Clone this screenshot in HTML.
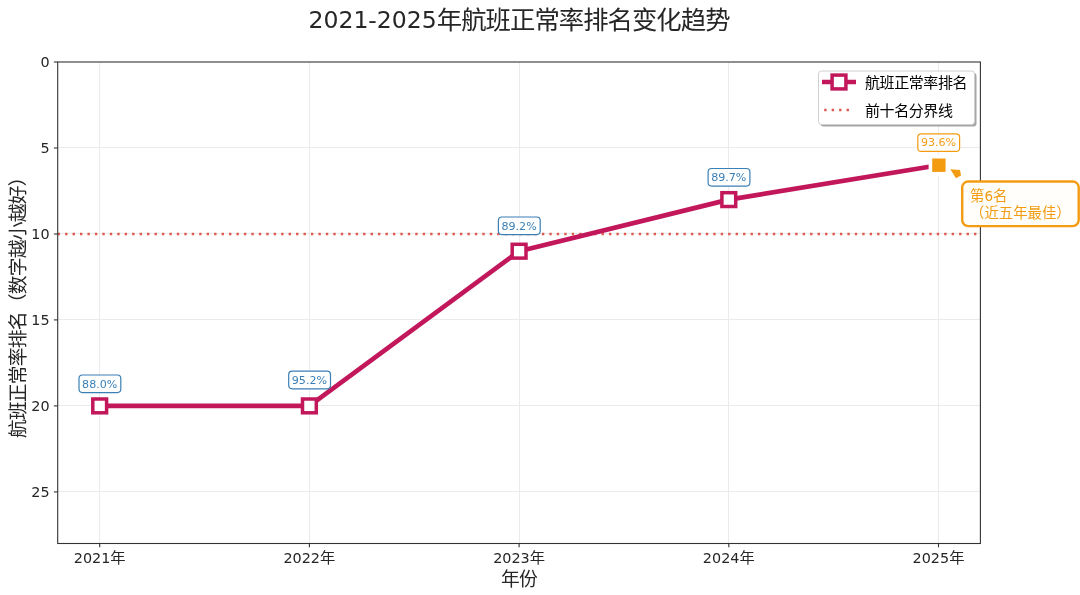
<!DOCTYPE html>
<html lang="zh-CN">
<head>
<meta charset="utf-8">
<title>2021-2025年航班正常率排名变化趋势</title>
<style>
html,body{margin:0;padding:0;background:#fff;}
body{width:1080px;height:595px;overflow:hidden;}
svg{display:block;}
svg text{font-family:"DejaVu Sans","Liberation Sans","Noto Sans CJK SC",sans-serif;fill:#262626;}
svg .l{font-family:"DejaVu Sans","Liberation Sans",sans-serif;}
svg .c{font-family:"Noto Sans CJK SC","Liberation Sans",sans-serif;}
</style>
</head>
<body>
<svg width="1080" height="595" viewBox="0 0 1080 595">
<rect x="0" y="0" width="1080" height="595" fill="#ffffff"/>

<g stroke="#ebebeb" stroke-width="1" fill="none">
<line x1="99.5" y1="62.0" x2="99.5" y2="543.5"/>
<line x1="309.5" y1="62.0" x2="309.5" y2="543.5"/>
<line x1="519.5" y1="62.0" x2="519.5" y2="543.5"/>
<line x1="728.5" y1="62.0" x2="728.5" y2="543.5"/>
<line x1="938.5" y1="62.0" x2="938.5" y2="543.5"/>
<line x1="57.7" y1="147.5" x2="980.4" y2="147.5"/>
<line x1="57.7" y1="233.5" x2="980.4" y2="233.5"/>
<line x1="57.7" y1="319.5" x2="980.4" y2="319.5"/>
<line x1="57.7" y1="405.5" x2="980.4" y2="405.5"/>
<line x1="57.7" y1="491.5" x2="980.4" y2="491.5"/>
</g>
<line x1="57.7" y1="234.0" x2="980.4" y2="234.0" stroke="#dd5a50" stroke-width="2.4" stroke-dasharray="2.4 5.05" stroke-dashoffset="-7.4"/>
<polyline points="99.7,405.9 309.4,405.9 519.1,251.2 728.8,199.6 938.5,165.2" fill="none" stroke="#c2185b" stroke-width="4.7" stroke-linejoin="round" stroke-linecap="butt"/>
<rect x="92.8" y="399.0" width="13.8" height="13.8" fill="#ffffff" stroke="#c2185b" stroke-width="3.5"/>
<rect x="302.5" y="399.0" width="13.8" height="13.8" fill="#ffffff" stroke="#c2185b" stroke-width="3.5"/>
<rect x="512.2" y="244.3" width="13.8" height="13.8" fill="#ffffff" stroke="#c2185b" stroke-width="3.5"/>
<rect x="721.9" y="192.7" width="13.8" height="13.8" fill="#ffffff" stroke="#c2185b" stroke-width="3.5"/>
<rect x="930.4" y="156.7" width="17" height="17" fill="#f39c12" stroke="#ffffff" stroke-width="3.6"/>
<rect x="57.7" y="62.0" width="922.7" height="481.5" fill="none" stroke="#333333" stroke-width="1.1"/>
<g stroke="#333333" stroke-width="1.1">
<line x1="99.7" y1="543.5" x2="99.7" y2="547.3"/>
<line x1="309.4" y1="543.5" x2="309.4" y2="547.3"/>
<line x1="519.1" y1="543.5" x2="519.1" y2="547.3"/>
<line x1="728.8" y1="543.5" x2="728.8" y2="547.3"/>
<line x1="938.5" y1="543.5" x2="938.5" y2="547.3"/>
<line x1="53.9" y1="62.0" x2="57.7" y2="62.0"/>
<line x1="53.9" y1="148.0" x2="57.7" y2="148.0"/>
<line x1="53.9" y1="234.0" x2="57.7" y2="234.0"/>
<line x1="53.9" y1="319.9" x2="57.7" y2="319.9"/>
<line x1="53.9" y1="405.9" x2="57.7" y2="405.9"/>
<line x1="53.9" y1="491.9" x2="57.7" y2="491.9"/>
</g>
<text x="99.7" y="563" text-anchor="middle"><tspan class="l" font-size="14.38">2021</tspan><tspan class="c" font-size="15.30">年</tspan></text>
<text x="309.4" y="563" text-anchor="middle"><tspan class="l" font-size="14.38">2022</tspan><tspan class="c" font-size="15.30">年</tspan></text>
<text x="519.1" y="563" text-anchor="middle"><tspan class="l" font-size="14.38">2023</tspan><tspan class="c" font-size="15.30">年</tspan></text>
<text x="728.8" y="563" text-anchor="middle"><tspan class="l" font-size="14.38">2024</tspan><tspan class="c" font-size="15.30">年</tspan></text>
<text x="938.5" y="563" text-anchor="middle"><tspan class="l" font-size="14.38">2025</tspan><tspan class="c" font-size="15.30">年</tspan></text>
<text x="49.6" y="67.2" text-anchor="end"><tspan class="l" font-size="14.38">0</tspan></text>
<text x="49.6" y="153.2" text-anchor="end"><tspan class="l" font-size="14.38">5</tspan></text>
<text x="49.6" y="239.2" text-anchor="end"><tspan class="l" font-size="14.38">10</tspan></text>
<text x="49.6" y="325.1" text-anchor="end"><tspan class="l" font-size="14.38">15</tspan></text>
<text x="49.6" y="411.1" text-anchor="end"><tspan class="l" font-size="14.38">20</tspan></text>
<text x="49.6" y="497.1" text-anchor="end"><tspan class="l" font-size="14.38">25</tspan></text>
<text x="519" y="585.6" text-anchor="middle"><tspan class="c" font-size="18.81" letter-spacing="-0.81">年份</tspan></text>
<text transform="translate(24.6,303.2) rotate(-90)" text-anchor="middle"><tspan class="c" font-size="18.81" letter-spacing="-0.81">航班正常率排名（数字越小越好）</tspan></text>
<text x="519" y="27.6" text-anchor="middle"><tspan class="l" font-size="23.55">2021-2025</tspan><tspan class="c" font-size="25.38" dy="1.3" letter-spacing="-0.98">年航班正常率排名变化趋势</tspan></text>
<rect x="79.0" y="375.0" width="41.8" height="17.6" rx="3.5" ry="3.5" fill="#ffffff" stroke="#3a7fb5" stroke-width="1.2"/>
<text x="99.7" y="387.5" text-anchor="middle" style="fill:#3a7fb5"><tspan class="l" font-size="11.09">88.0%</tspan></text>
<rect x="288.7" y="371.2" width="41.8" height="17.6" rx="3.5" ry="3.5" fill="#ffffff" stroke="#3a7fb5" stroke-width="1.2"/>
<text x="309.4" y="383.7" text-anchor="middle" style="fill:#3a7fb5"><tspan class="l" font-size="11.09">95.2%</tspan></text>
<rect x="498.4" y="217.0" width="41.8" height="17.6" rx="3.5" ry="3.5" fill="#ffffff" stroke="#3a7fb5" stroke-width="1.2"/>
<text x="519.1" y="229.5" text-anchor="middle" style="fill:#3a7fb5"><tspan class="l" font-size="11.09">89.2%</tspan></text>
<rect x="708.1" y="168.5" width="41.8" height="17.6" rx="3.5" ry="3.5" fill="#ffffff" stroke="#3a7fb5" stroke-width="1.2"/>
<text x="728.8" y="181.0" text-anchor="middle" style="fill:#3a7fb5"><tspan class="l" font-size="11.09">89.7%</tspan></text>
<rect x="917.8" y="133.8" width="41.8" height="17.6" rx="3.5" ry="3.5" fill="#ffffff" stroke="#f39c12" stroke-width="1.2"/>
<text x="938.5" y="146.3" text-anchor="middle" style="fill:#f39c12"><tspan class="l" font-size="11.09">93.6%</tspan></text>
<rect x="962.2" y="181.5" width="116.5" height="44.6" rx="6" ry="6" fill="#fffefa" stroke="#f39c12" stroke-width="2.4"/>
<text x="970" y="200.6" style="fill:#f39c12"><tspan class="c" font-size="14.40">第</tspan><tspan class="l" font-size="13.54">6</tspan><tspan class="c" font-size="14.40">名</tspan></text>
<text x="970" y="217.8" style="fill:#f39c12"><tspan class="c" font-size="14.40">（近五年最佳）</tspan></text>
<polygon points="950.3,169.3 960,170 961,175.5 956,178.2" fill="#f39c12"/>
<rect x="820.5" y="73" width="156" height="53.5" rx="3" ry="3" fill="#808080" fill-opacity="0.7"/>
<rect x="818.5" y="71" width="156" height="53.5" rx="3" ry="3" fill="#ffffff" stroke="#d0d0d0" stroke-width="1"/>
<line x1="822" y1="82" x2="856" y2="82" stroke="#c2185b" stroke-width="4.7"/>
<rect x="832.1" y="75.1" width="13.8" height="13.8" fill="#ffffff" stroke="#c2185b" stroke-width="3.5"/>
<line x1="822" y1="110" x2="852" y2="110" stroke="#dd5a50" stroke-width="2.4" stroke-dasharray="2.4 5.05" stroke-dashoffset="-2.2"/>
<text x="865" y="87.5" style="fill:#000"><tspan class="c" font-size="15.04" letter-spacing="-0.44">航班正常率排名</tspan></text>
<text x="865" y="115.5" style="fill:#000"><tspan class="c" font-size="15.04" letter-spacing="-0.44">前十名分界线</tspan></text>
</svg>
</body>
</html>
